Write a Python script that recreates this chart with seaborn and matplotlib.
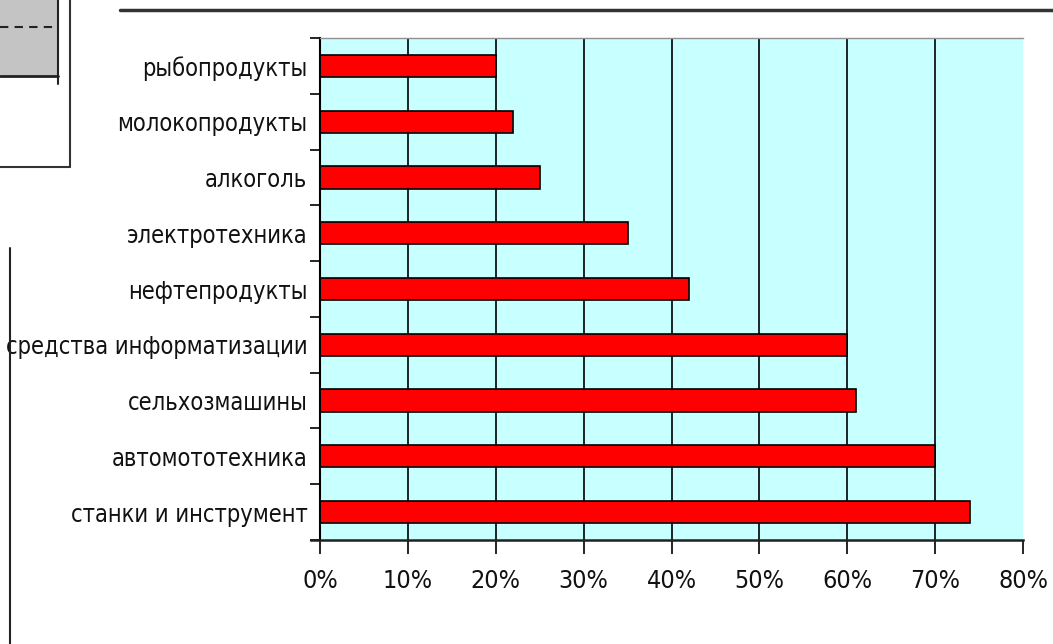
import matplotlib
matplotlib.use('Agg')
import matplotlib.pyplot as plt
import matplotlib.patches as mpatches
from matplotlib.lines import Line2D
from matplotlib.ticker import PercentFormatter, FixedLocator
from matplotlib import font_manager
import seaborn as sns
import pandas as pd
import numpy as np

categories = ['рыбопродукты', 'молокопродукты', 'алкоголь', 'электротехника',
              'нефтепродукты', 'средства информатизации', 'сельхозмашины',
              'автомототехника', 'станки и инструмент']
shares = [0.20, 0.22, 0.25, 0.35, 0.42, 0.60, 0.61, 0.70, 0.74]
x_ticks = [0, 0.1, 0.2, 0.3, 0.4, 0.5, 0.6, 0.7, 0.8]

df = pd.DataFrame({'category': categories, 'share': shares})

sns.set_style('white')
plt.rcParams['font.family'] = ['DejaVu Sans']
plt.rcParams['font.stretch'] = 'condensed'
fnt = font_manager.findfont(font_manager.FontProperties(family='DejaVu Sans', stretch='condensed'))
condensed = 'Condensed' in fnt
lab_size = 17 if condensed else 15
tick_size = 18 if condensed else 16

W, H = 1053, 644
fig = plt.figure(figsize=(W / 100, H / 100), dpi=100)
ax = fig.add_axes([320 / W, 1 - 540 / H, (1023 - 320) / W, (540 - 38) / H])
ax.set_facecolor('#C8FFFF')

sns.barplot(data=df, x='share', y='category', order=categories, orient='h',
            color='#FF0000', edgecolor='black', linewidth=1.2, width=0.4,
            saturation=1, ax=ax)

ax.set_xlim(0, 0.8)
ax.set_ylim(len(categories) - 0.5, -0.5)
ax.xaxis.set_major_locator(FixedLocator(x_ticks))
ax.xaxis.set_major_formatter(PercentFormatter(1.0, decimals=0))
ax.grid(axis='x', color='black', linewidth=1.2)
ax.set_axisbelow(True)
ax.xaxis.get_gridlines()[-1].set_visible(False)

ax.set_xlabel('')
ax.set_ylabel('')
ax.tick_params(axis='x', length=10, width=1.2, color='black', labelsize=tick_size,
               labelcolor='#111111', pad=11, direction='out', bottom=True)
ax.tick_params(axis='y', which='major', length=0, labelsize=lab_size,
               labelcolor='#111111', pad=9)
ax.set_yticks(np.arange(-0.5, len(categories) + 0.5), minor=True)
ax.tick_params(axis='y', which='minor', length=7, width=1.2, color='black', left=True)

ax.spines['right'].set_visible(False)
ax.spines['top'].set_color('#909090')
ax.spines['top'].set_linewidth(1)
ax.spines['left'].set_color('black')
ax.spines['left'].set_linewidth(1.5)
ax.spines['bottom'].set_color('#202020')
ax.spines['bottom'].set_linewidth(1.8)
ax.spines['bottom'].set_bounds(-0.01, 0.8)

# slide decorations
def fx(px):
    return px / W

def fy(py):
    return 1 - py / H

fig.add_artist(mpatches.Rectangle((0, fy(76)), fx(58), fy(0) - fy(76),
                                  transform=fig.transFigure, facecolor='#C4C4C4',
                                  edgecolor='none'))
fig.add_artist(Line2D([0, fx(58)], [fy(76), fy(76)], transform=fig.transFigure,
                      color='#222222', linewidth=2))
fig.add_artist(Line2D([fx(58), fx(58)], [fy(0), fy(84)], transform=fig.transFigure,
                      color='#222222', linewidth=1.5))
fig.add_artist(Line2D([0, fx(55)], [fy(27), fy(27)], transform=fig.transFigure,
                      color='#222222', linewidth=1.5, linestyle=(0, (4, 3))))
fig.add_artist(Line2D([fx(70), fx(70)], [fy(0), fy(167)], transform=fig.transFigure,
                      color='#333333', linewidth=1.5))
fig.add_artist(Line2D([0, fx(70)], [fy(167), fy(167)], transform=fig.transFigure,
                      color='#333333', linewidth=1.5))
fig.add_artist(Line2D([fx(10), fx(10)], [fy(248), 0], transform=fig.transFigure,
                      color='#222222', linewidth=1.5))
fig.add_artist(Line2D([fx(120), 1], [fy(10), fy(10)], transform=fig.transFigure,
                      color='#333333', linewidth=2.5))

fig.savefig('out.png', dpi=100, facecolor='white')
